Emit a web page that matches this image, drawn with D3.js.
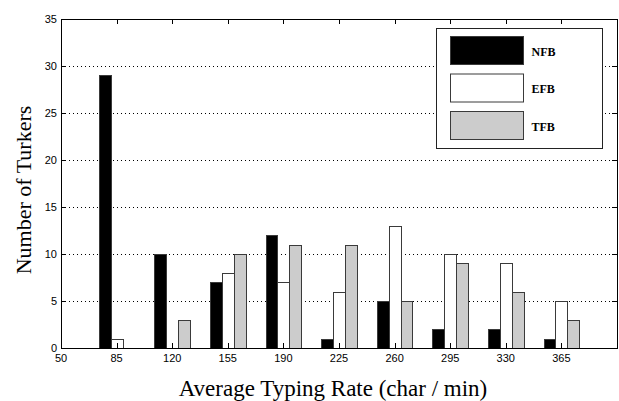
<!DOCTYPE html>
<html>
<head>
<meta charset="utf-8">
<script src="https://cdn.jsdelivr.net/npm/d3@7"></script>
<style>
    body { margin: 0; background: #fff; }
    .tick-label { font-family: "Liberation Sans", Arial, sans-serif; font-size: 11px; fill: #000; }
    .axis-title { font-family: "Liberation Serif", "Times New Roman", serif; font-size: 23px; fill: #000; }
    .legend-text { font-family: "Liberation Serif", "Times New Roman", serif; font-size: 12px; font-weight: bold; fill: #000; }
</style>
</head>
<body>
<svg id="chart" width="619" height="401"></svg>
<script>
var rates = [85, 120, 155, 190, 225, 260, 295, 330, 365];
var xTicks = [50, 85, 120, 155, 190, 225, 260, 295, 330, 365];
var yTicks = [0, 5, 10, 15, 20, 25, 30, 35];
var seriesNames = ["NFB", "EFB", "TFB"];
var seriesFill = ["#000000", "#ffffff", "#cccccc"];
var nfb = [29, 10, 7, 12, 1, 5, 2, 2, 1];
var efb = [1, 0, 8, 7, 6, 13, 10, 9, 5];
var tfb = [0, 3, 10, 11, 11, 5, 9, 6, 3];

var cfg = { left: 61, right: 617, top: 19, bottom: 348, barW: 7.45, tickLen: 5 };

function drawChart() {
    var svg = d3.select("#chart");
    svg.selectAll("*").remove();

    var x = d3.scaleLinear().domain([50, 400]).range([cfg.left, cfg.right]);
    var y = d3.scaleLinear().domain([0, 35]).range([cfg.bottom, cfg.top]);
    var series = [nfb, efb, tfb];

    // dotted grid lines
    svg.append("g")
        .selectAll("line")
        .data(yTicks.filter(d => d > 0 && d < 35))
        .join("line")
        .attr("x1", cfg.left)
        .attr("x2", cfg.right)
        .attr("y1", d => Math.round(y(d)) + 0.5)
        .attr("y2", d => Math.round(y(d)) + 0.5)
        .attr("stroke", "#000")
        .attr("stroke-width", 1)
        .attr("stroke-dasharray", "1,3");

    // bars, grouped around each rate
    series.forEach(function (vals, s) {
        svg.append("g")
            .selectAll("rect")
            .data(rates.map((r, i) => ({ r: r, v: vals[i] })).filter(d => d.v > 0))
            .join("rect")
            .attr("x", d => Math.round(x(d.r + (s - 1.5) * cfg.barW)) + 0.5)
            .attr("width", d => Math.round(x(d.r + (s - 0.5) * cfg.barW)) - Math.round(x(d.r + (s - 1.5) * cfg.barW)))
            .attr("y", d => Math.round(y(d.v)) + 0.5)
            .attr("height", d => Math.round(y(0)) - Math.round(y(d.v)))
            .attr("fill", seriesFill[s])
            .attr("stroke", "#3a3a3a")
            .attr("stroke-width", 1);
    });

    // inward ticks on all four sides
    var ticks = svg.append("g").attr("stroke", "#000").attr("stroke-width", 1);
    for (let t of xTicks) {
        var px = Math.round(x(t)) + 0.5;
        ticks.append("line").attr("x1", px).attr("x2", px)
            .attr("y1", cfg.bottom).attr("y2", cfg.bottom - cfg.tickLen);
        ticks.append("line").attr("x1", px).attr("x2", px)
            .attr("y1", cfg.top).attr("y2", cfg.top + cfg.tickLen);
    }
    for (let t of yTicks) {
        var py = Math.round(y(t)) + 0.5;
        ticks.append("line").attr("x1", cfg.left).attr("x2", cfg.left + cfg.tickLen)
            .attr("y1", py).attr("y2", py);
        ticks.append("line").attr("x1", cfg.right).attr("x2", cfg.right - cfg.tickLen)
            .attr("y1", py).attr("y2", py);
    }

    // axes box
    svg.append("rect")
        .attr("x", cfg.left + 0.5)
        .attr("y", cfg.top + 0.5)
        .attr("width", cfg.right - cfg.left)
        .attr("height", cfg.bottom - cfg.top)
        .attr("fill", "none")
        .attr("stroke", "#000")
        .attr("stroke-width", 1);

    // tick labels
    svg.append("g")
        .selectAll("text")
        .data(xTicks)
        .join("text")
        .attr("class", "tick-label")
        .attr("x", d => x(d))
        .attr("y", cfg.bottom + 14)
        .attr("text-anchor", "middle")
        .text(d => d);

    svg.append("g")
        .selectAll("text")
        .data(yTicks)
        .join("text")
        .attr("class", "tick-label")
        .attr("x", cfg.left - 4)
        .attr("y", d => y(d) + 4)
        .attr("text-anchor", "end")
        .text(d => d);

    // axis titles
    svg.append("text")
        .attr("class", "axis-title")
        .attr("x", 333)
        .attr("y", 396)
        .attr("text-anchor", "middle")
        .text("Average Typing Rate (char / min)");

    svg.append("text")
        .attr("class", "axis-title")
        .style("font-size", "22px")
        .attr("transform", "translate(31," + 190 + ") rotate(-90)")
        .attr("text-anchor", "middle")
        .text("Number of Turkers");

    // legend
    var lg = svg.append("g").attr("transform", "translate(436.5,28.5)");
    lg.append("rect")
        .attr("width", 166)
        .attr("height", 120)
        .attr("fill", "#fff")
        .attr("stroke", "#222")
        .attr("stroke-width", 1);
    seriesNames.forEach(function (name, i) {
        lg.append("rect")
            .attr("x", 14)
            .attr("y", 8 + i * 37.5)
            .attr("width", 73)
            .attr("height", 28)
            .attr("fill", seriesFill[i])
            .attr("stroke", "#3a3a3a")
            .attr("stroke-width", 1);
        lg.append("text")
            .attr("class", "legend-text")
            .attr("x", 95)
            .attr("y", 27 + i * 37.5)
            .text(name);
    });
}

drawChart();
</script>
</body>
</html>
